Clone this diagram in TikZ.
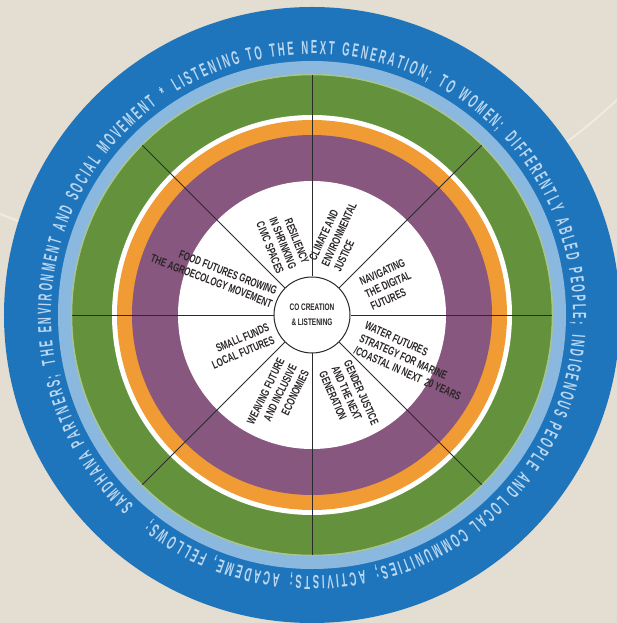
\documentclass[tikz,border=0pt]{standalone}
\usepackage{fontspec}
\usetikzlibrary{decorations.text}
\newfontfamily\innerfont{Liberation Sans}[FakeStretch=0.68]
\newfontfamily\outerfont{Liberation Sans}[FakeStretch=0.5]
\definecolor{bgc}{HTML}{E4DDD1}
\definecolor{bgline}{HTML}{EFEBE4}
\definecolor{ringblue}{HTML}{1E75BB}
\definecolor{lightblue}{HTML}{8AB8DE}
\definecolor{ringgreen}{HTML}{64923C}
\definecolor{palegreen}{HTML}{A8C58E}
\definecolor{ringorange}{HTML}{F19B34}
\definecolor{ringpurple}{HTML}{87577F}
\definecolor{ringtext}{HTML}{BCD7F1}
\definecolor{innerc}{HTML}{2A2526}
\definecolor{spokec}{HTML}{2B2B2B}
\tikzset{
  innertext/.style={font=\innerfont\bfseries\fontsize{11.6}{13.6}\selectfont, text=innerc, inner sep=0pt},
  spoke/.style={draw=spokec, line width=0.9pt}
}
\begin{document}
\begin{tikzpicture}[x=1pt,y=1pt]
\useasboundingbox (-312,-308) rectangle (305,315);
\fill[bgc] (-312,-308) rectangle (305,315);
\begin{scope}
\clip (-312,-308) rectangle (305,315);
\draw[bgline, line width=2pt] (-92,638) circle[radius=580];
\end{scope}
% rings
\fill[ringblue] (0,0) circle[radius=308];
\fill[lightblue] (0,0) circle[radius=254];
\fill[ringgreen] (0,0) circle[radius=240];
\draw[palegreen, line width=1.5pt] (0,0) circle[radius=240.5];
\fill[white] (0,0) circle[radius=200];
\fill[ringorange] (0,0) circle[radius=195];
\fill[ringpurple] (0,0) circle[radius=180];
\fill[white] (0,0) circle[radius=134];
% outer text
\path[decorate, decoration={text along path, text color=ringtext,
  text align={fit to path},
  text={|\outerfont\bfseries\fontsize{19}{19}\selectfont|SAMDHANA PARTNERS;{\ \ }THE ENVIRONMENT AND SOCIAL MOVEMENT{\ \ }*{\ \ }LISTENING TO THE NEXT GENERATION;{\ \ }TO WOMEN;{\ \ }DIFFERENTLY ABLED PEOPLE;{\ \ }INDIGENOUS PEOPLE AND LOCAL COMMUNITIES;{\ \ }ACTIVISTS;{\ \ }ACADEME, FELLOWS;}}]
  (227:261) arc[start angle=227, end angle=-128, radius=261];
% centre node
\node[circle, draw=spokec, line width=1pt, fill=white, minimum size=76pt, inner sep=0pt,
  font=\innerfont\bfseries\fontsize{9.5}{15}\selectfont, text=innerc, align=center] (cc) at (0,0) {CO CREATION\\\& LISTENING};
% spokes
\foreach \a in {0,45,...,315}{
  \coordinate (s\a) at (\a:240);
  \draw[spoke] (cc.\a) -- (s\a);
}
% sector texts
\node[innertext, align=left, rotate=65] (t1) at (71.4:85) {CLIMATE AND\\ENVIRONMENTAL\\JUSTICE};
\node[innertext, align=right, rotate=-68] (t2) at (112:78) {RESILIENCY\\IN SHRINKING\\CIVIC SPACES};
\node[innertext, align=left, rotate=24] (t3) at (21.8:82) {NAVIGATING\\THE DIGITAL\\FUTURES};
\node[innertext, align=left, rotate=-24] (t4) at (-24.6:111) {WATER FUTURES\\STRATEGY FOR MARINE\\/COASTAL IN NEXT\ \ 20 YEARS};
\node[innertext, align=left, rotate=-66] (t5) at (-66:91) {GENDER JUSTICE\\AND THE NEXT\\GENERATION};
\node[innertext, align=right, rotate=64] (t6) at (247.5:89) {WEAVING FUTURE\\AND INCLUSIVE\\ECONOMIES};
\node[innertext, align=right, rotate=23] (t7) at (203.6:78) {SMALL FUNDS\\LOCAL FUTURES};
\node[innertext, align=right, rotate=-21] (t8) at (157.6:106) {FOOD FUTURES GROWING\\THE AGROECOLOGY MOVEMENT};
\end{tikzpicture}
\end{document}
